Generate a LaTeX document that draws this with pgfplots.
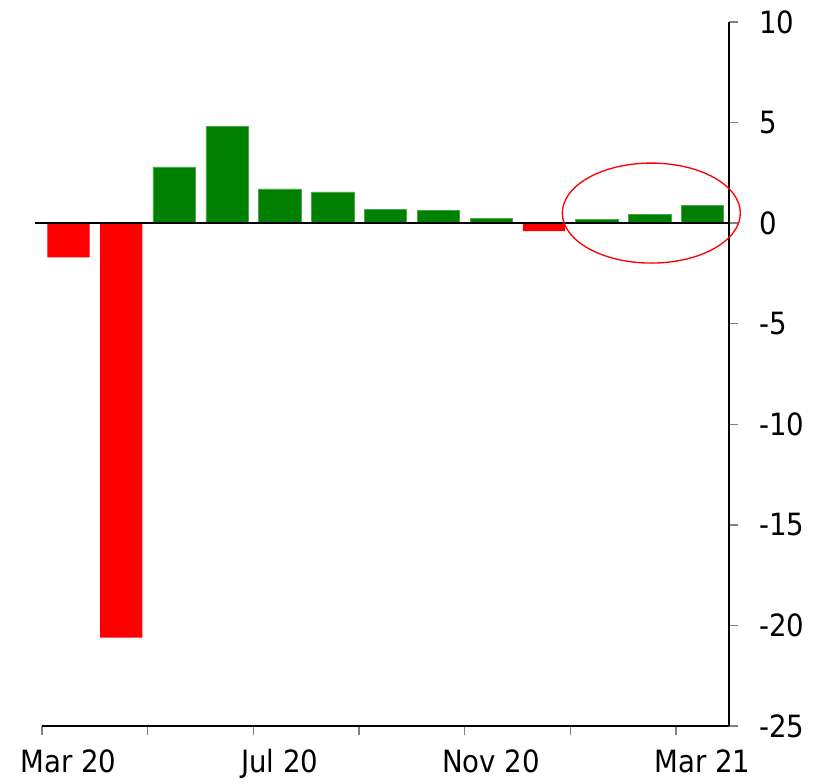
\documentclass[border=0pt]{standalone}
\usepackage{pgfplots}
\pgfplotsset{compat=1.18}
\usepackage{fontspec}
\setmainfont{DejaVu Sans Condensed}
\definecolor{barred}{RGB}{255,0,0}
\definecolor{bargreen}{RGB}{0,128,0}
\begin{document}
\begin{tikzpicture}
\begin{axis}[
    scale only axis,
    width=515.25pt, height=528pt,
    xmin=-0.5, xmax=12.5,
    ymin=-25, ymax=10,
    axis x line=bottom,
    axis y line=right,
    axis line style={-, line width=1pt},
    xtick={-0.5,1.5,...,11.5},
    xticklabels={},
    extra x ticks={0,4,8,12},
    extra x tick labels={Mar 20, Jul 20, Nov 20, Mar 21},
    extra x tick style={major tick length=0pt, xticklabel style={yshift=-14pt}},
    major tick length=7pt,
    tick style={line width=1pt},
    ytick={-25,-20,...,10},
    tick align=outside,
    ticklabel style={font=\fontsize{23}{27}\selectfont},
    yticklabel style={xshift=12pt},
    /pgf/number format/assume math mode=true,
    clip=false,
]
\coordinate (O) at (rel axis cs:0,0);
\addplot[ybar, bar width=0.8, bar shift=0pt, fill=barred, draw=none]
  coordinates {(0,-1.7) (1,-20.6) (9,-0.4)};
\addplot[ybar, bar width=0.8, bar shift=0pt, fill=bargreen, draw=bargreen!70]
  coordinates {(2,2.8) (3,4.8) (4,1.7) (5,1.55) (6,0.7) (7,0.65) (8,0.25) (10,0.2) (11,0.45) (12,0.9)};
\draw[line width=1pt] (axis cs:-0.63,0) -- (axis cs:12.5,0);
\draw[barred, line width=1pt] (axis cs:11.03,0.5) ellipse [x radius=66.75pt, y radius=37.5pt];
\end{axis}
\path (O) ++(-31.5pt,-42.75pt) rectangle ++(617.25pt,587.25pt);
\end{tikzpicture}
\end{document}
